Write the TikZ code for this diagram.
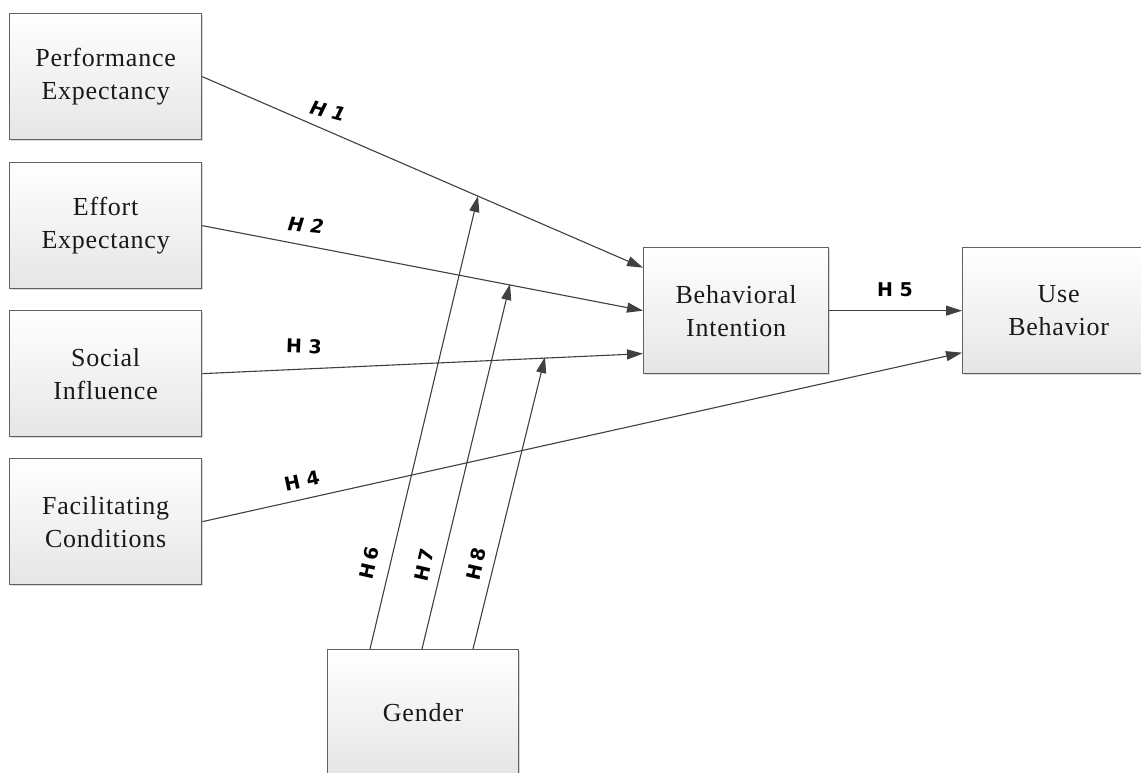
\documentclass[tikz,border=0pt]{standalone}
\usepackage{fontspec}
\setmainfont{Liberation Serif}[LetterSpace=3]
\newfontfamily\labelfont{DejaVu Sans}
\usetikzlibrary{arrows.meta,shadows,calc}
\begin{document}
\begin{tikzpicture}[x=1pt,y=-1pt,
  box/.style={draw=black!62, line width=1.3pt, top color=white, bottom color=black!10,
    minimum width=192pt, minimum height=126pt, anchor=north west, align=center,
    font=\fontsize{26}{33}\selectfont, inner sep=0pt, text=black!90,
    drop shadow={shadow xshift=1.5pt, shadow yshift=-1.5pt, opacity=0.3, fill=black!50}},
  arr/.style={draw=black!75, line width=1.1pt, -{Triangle[length=16pt,width=10pt,fill=black!75]}},
  hlab/.style={font=\labelfont\bfseries\fontsize{19}{21}\selectfont, inner sep=0pt, text=black}]
\useasboundingbox (0,0) rectangle (1141,772);
\clip (0,0) rectangle (1141,772);
\fill[white] (0,0) rectangle (1141,772);

\node[box] (pe) at (9,13) {Performance\\Expectancy};
\node[box] (ee) at (9,162) {Effort\\Expectancy};
\node[box] (si) at (9,310) {Social\\Influence};
\node[box] (fc) at (9,458) {Facilitating\\Conditions};
\node[box, minimum width=185pt] (bi) at (643,247) {Behavioral\\Intention};
\node[box] (ub) at (962,247) {Use\\Behavior};
\node[box, minimum width=191pt] (g) at (327,649) {Gender};

\coordinate (bi1) at ($(bi.west)+(0,-43)$);
\coordinate (bi3) at ($(bi.west)+(0,43)$);
\coordinate (ub4) at ($(ub.west)+(0,42)$);

\draw[arr] (pe.east) -- (bi1);
\draw[arr] (ee.east) -- (bi.west);
\draw[arr] (si.east) -- (bi3);
\draw[arr] (fc.east) -- (ub4);
\draw[arr] (bi.east) -- (ub.west);

\coordinate (g6) at ($(g.north west)+(43,0)$);
\coordinate (g7) at ($(g.north west)+(95,0)$);
\coordinate (g8) at ($(g.north west)+(146,0)$);
\coordinate (m6) at (478,196);
\coordinate (m7) at (510,284);
\coordinate (m8) at (545,357);
\draw[arr] (g6) -- (m6);
\draw[arr] (g7) -- (m7);
\draw[arr] (g8) -- (m8);

\node[hlab, rotate=-15] (h1) at (328,111) {\itshape H 1};
\node[hlab, rotate=-6] (h2) at (306,225) {\itshape H 2};
\node[hlab, rotate=-2] (h3) at (304,346) {H 3};
\node[hlab, rotate=12] (h4) at (302,481) {H 4};
\node[hlab] (h5) at (895,290) {H 5};
\node[hlab, rotate=77] (h6) at (369,563) {H\kern3pt 6};
\node[hlab, rotate=77] (h7) at (424,565) {H\kern3pt 7};
\node[hlab, rotate=77] (h8) at (476,564) {H\kern3pt 8};
\end{tikzpicture}
\end{document}
